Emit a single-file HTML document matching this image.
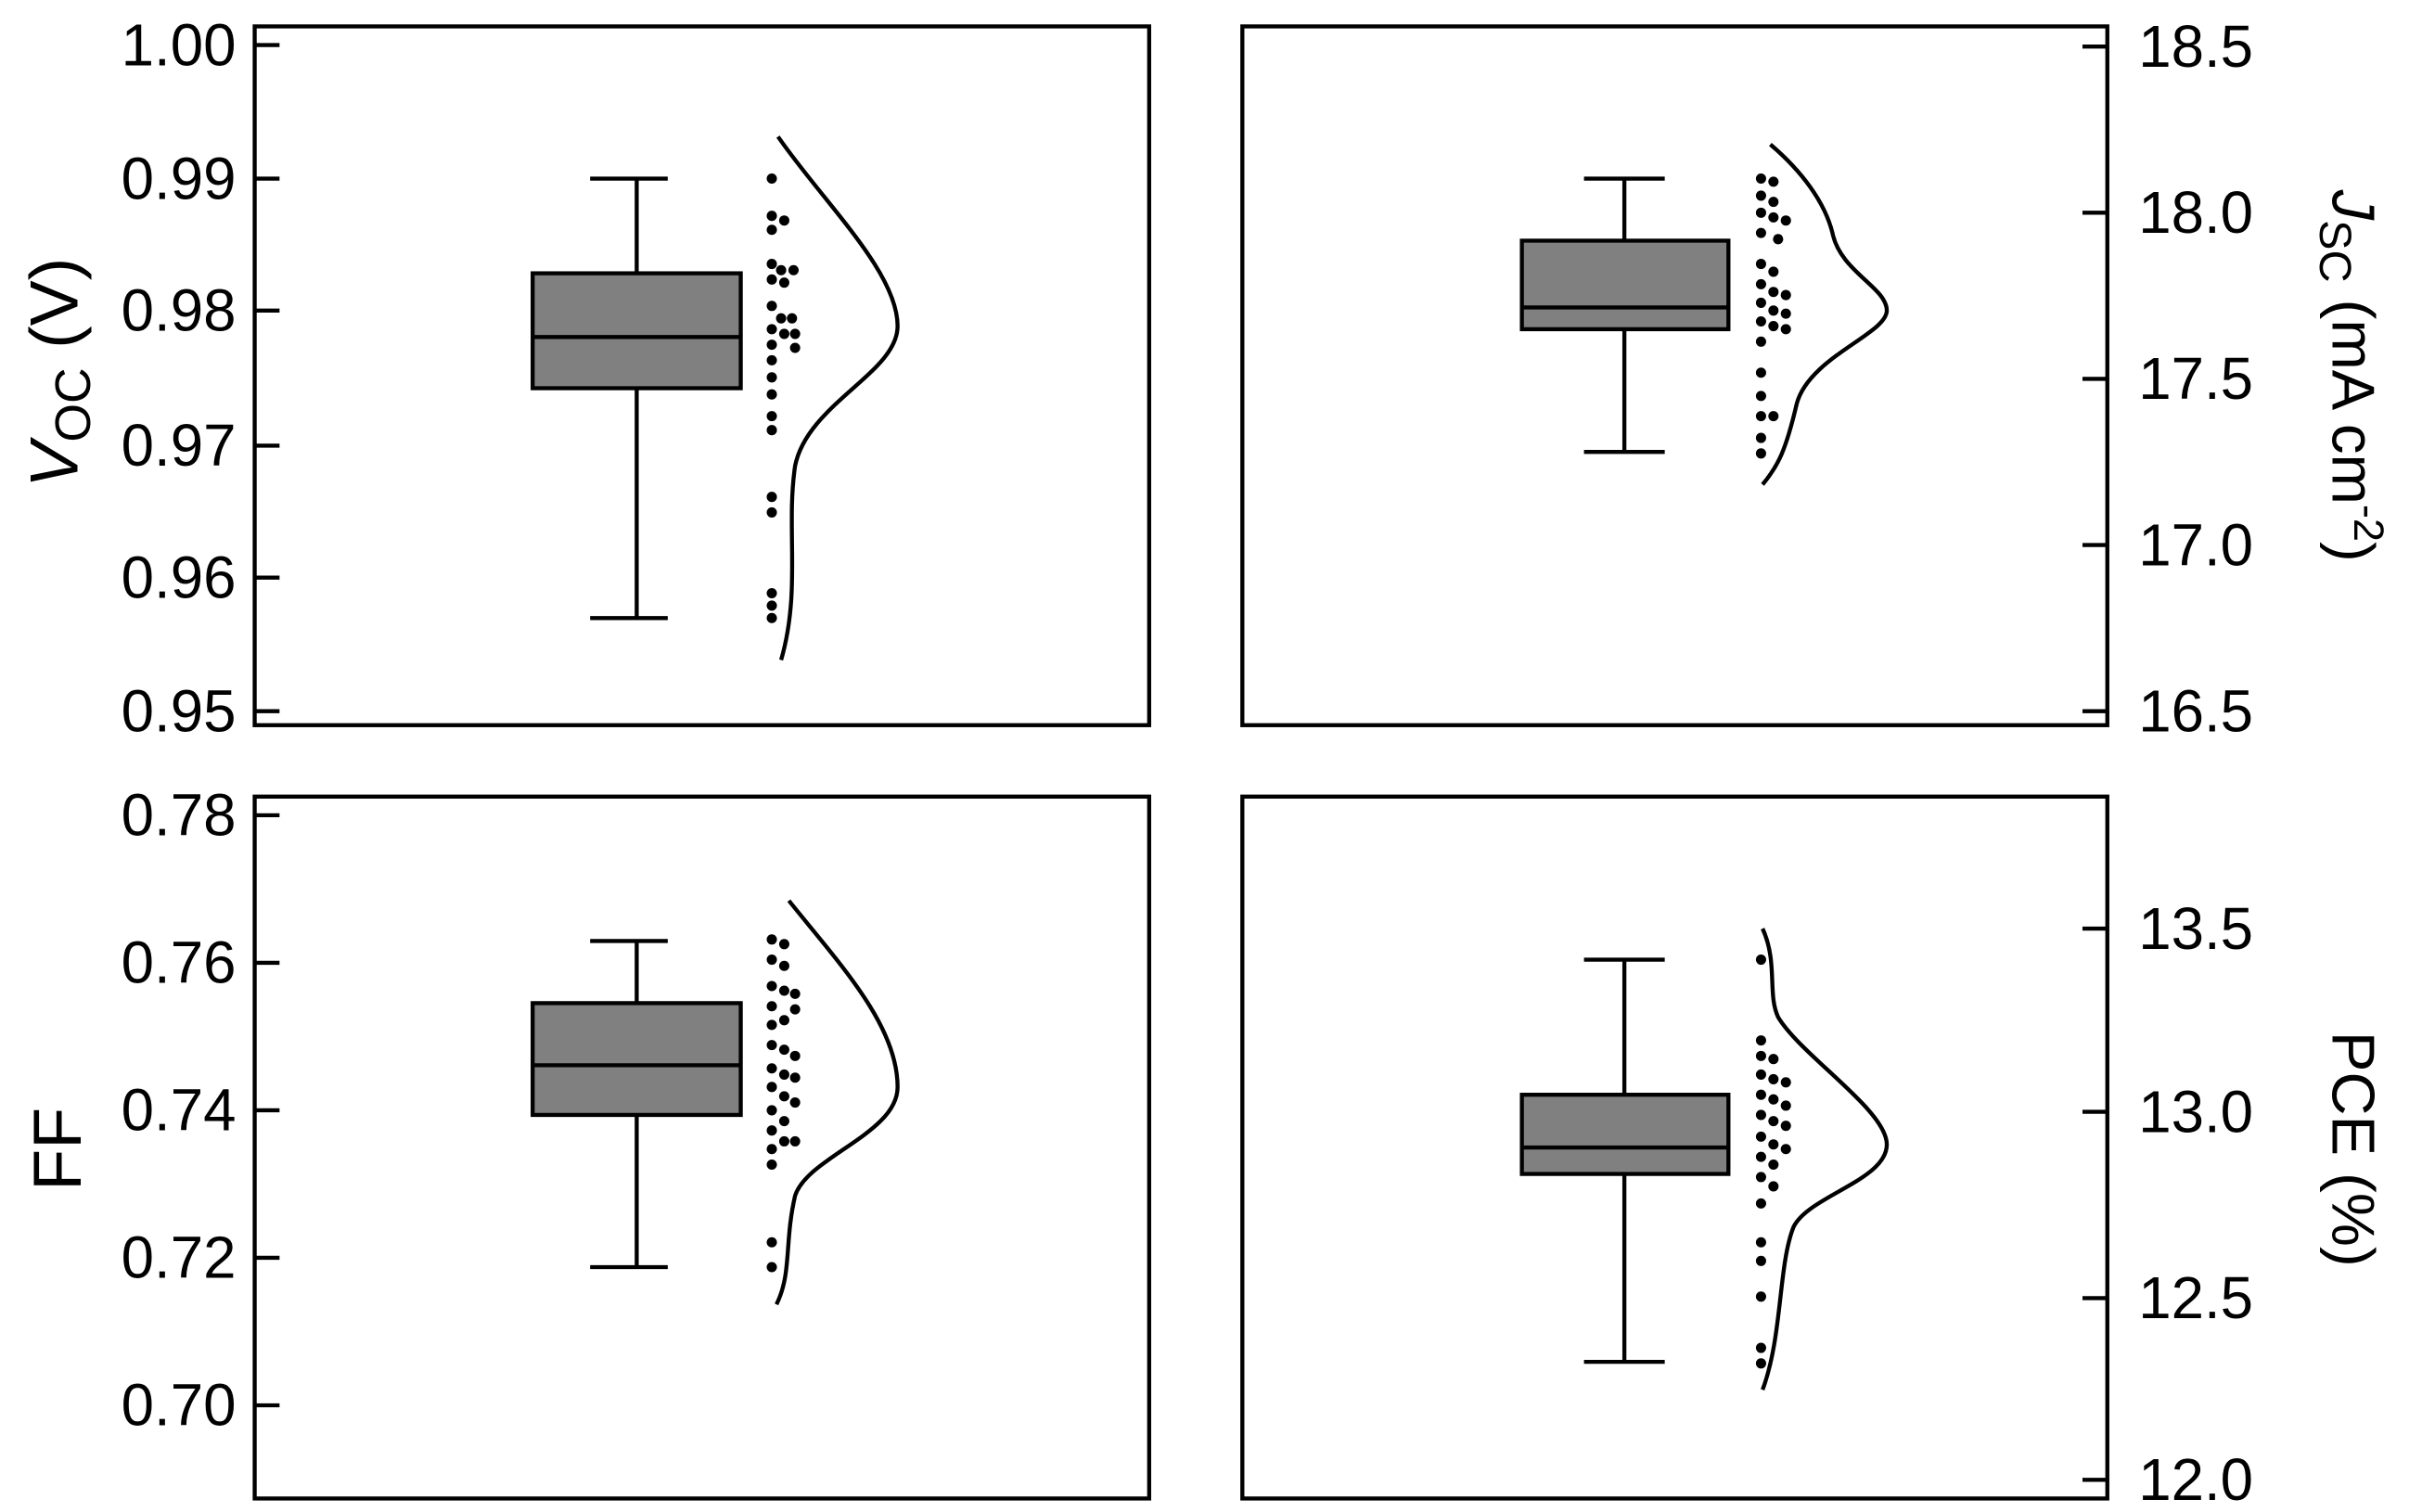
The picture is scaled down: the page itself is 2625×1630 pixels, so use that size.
<!DOCTYPE html>
<html><head><meta charset="utf-8"><style>html,body{margin:0;padding:0;background:#fff;}svg{display:block}</style></head>
<body>
<svg width="2625" height="1630" viewBox="0 0 1568 973.7" preserveAspectRatio="none" xmlns="http://www.w3.org/2000/svg" font-family="Liberation Sans, Arial, sans-serif">
<g fill="none" stroke="#000" stroke-width="2.6">
<rect x="164" y="17" width="576" height="450"/>
<rect x="800" y="17" width="557" height="450"/>
<rect x="164" y="513" width="576" height="452"/>
<rect x="800" y="513" width="557" height="452"/>
<path d="M164 29h16M164 115h16M164 200h16M164 287h16M164 372h16M164 458h16"/>
<path d="M1357 30h-16M1357 137h-16M1357 244h-16M1357 351h-16M1357 458h-16"/>
<path d="M164 525h16M164 620h16M164 715h16M164 810h16M164 905h16"/>
<path d="M1357 598h-16M1357 716h-16M1357 836h-16M1357 953h-16"/>
<path d="M410 115V176M380 115h50M410 250V398M380 398h50"/>
<path d="M1046 115V155M1020 115h52M1046 212V291M1020 291h52"/>
<path d="M410 606V646M380 606h50M410 718V816M380 816h50"/>
<path d="M1046 618V705M1020 618h52M1046 756V877M1020 877h52"/>
<path d="M501 88 C530 130,578 175,578 210 C578 240,520 260,512 300 C506 340,516 380,503 425"/>
<path d="M1140 93 C1160 110,1175 130,1180 150 C1185 175,1215 185,1215 200 C1215 215,1165 230,1157 260 C1150 290,1145 300,1135 312"/>
<path d="M508 580 C540 620,578 660,578 700 C578 730,520 745,512 770 C505 800,510 820,500 840"/>
<path d="M1135 598 C1145 620,1138 640,1145 655 C1160 680,1215 715,1215 737 C1215 760,1165 770,1155 790 C1145 815,1148 860,1135 895"/>
</g>
<g fill="#808080" stroke="#000" stroke-width="2.6">
<rect x="343" y="176" width="134" height="74"/>
<rect x="980" y="155" width="133" height="57"/>
<rect x="343" y="646" width="134" height="72"/>
<rect x="980" y="705" width="133" height="51"/>
</g>
<path d="M343 217h134M980 198h133M343 686h134M980 739h133" stroke="#000" stroke-width="2.6"/>
<g fill="#000">
<circle cx="497" cy="115" r="3.3"/><circle cx="497" cy="139" r="3.3"/><circle cx="505" cy="142" r="3.3"/><circle cx="497" cy="148" r="3.3"/>
<circle cx="497" cy="170" r="3.3"/><circle cx="503" cy="174" r="3.3"/><circle cx="511" cy="174" r="3.3"/><circle cx="497" cy="180" r="3.3"/><circle cx="505" cy="182" r="3.3"/>
<circle cx="497" cy="197" r="3.3"/><circle cx="503" cy="205" r="3.3"/><circle cx="510" cy="205" r="3.3"/><circle cx="497" cy="212" r="3.3"/><circle cx="505" cy="215" r="3.3"/><circle cx="512" cy="215" r="3.3"/><circle cx="497" cy="222" r="3.3"/><circle cx="512" cy="224" r="3.3"/><circle cx="497" cy="232" r="3.3"/><circle cx="497" cy="243" r="3.3"/><circle cx="497" cy="254" r="3.3"/>
<circle cx="497" cy="268" r="3.3"/><circle cx="497" cy="277" r="3.3"/><circle cx="497" cy="320" r="3.3"/><circle cx="497" cy="330" r="3.3"/><circle cx="497" cy="382" r="3.3"/><circle cx="497" cy="390" r="3.3"/><circle cx="497" cy="398" r="3.3"/>
<circle cx="1134" cy="115" r="3.3"/><circle cx="1142" cy="117" r="3.3"/><circle cx="1134" cy="126" r="3.3"/><circle cx="1142" cy="130" r="3.3"/><circle cx="1134" cy="137" r="3.3"/><circle cx="1142" cy="140" r="3.3"/><circle cx="1150" cy="142" r="3.3"/><circle cx="1134" cy="150" r="3.3"/><circle cx="1145" cy="154" r="3.3"/>
<circle cx="1134" cy="170" r="3.3"/><circle cx="1142" cy="175" r="3.3"/><circle cx="1134" cy="183" r="3.3"/><circle cx="1142" cy="188" r="3.3"/><circle cx="1150" cy="190" r="3.3"/><circle cx="1134" cy="195" r="3.3"/><circle cx="1142" cy="200" r="3.3"/><circle cx="1150" cy="202" r="3.3"/><circle cx="1134" cy="207" r="3.3"/><circle cx="1142" cy="210" r="3.3"/><circle cx="1150" cy="212" r="3.3"/><circle cx="1134" cy="220" r="3.3"/>
<circle cx="1134" cy="240" r="3.3"/><circle cx="1134" cy="255" r="3.3"/><circle cx="1134" cy="268" r="3.3"/><circle cx="1142" cy="268" r="3.3"/><circle cx="1134" cy="282" r="3.3"/><circle cx="1134" cy="292" r="3.3"/>
<circle cx="497" cy="605" r="3.3"/><circle cx="505" cy="608" r="3.3"/><circle cx="497" cy="618" r="3.3"/><circle cx="505" cy="622" r="3.3"/><circle cx="497" cy="635" r="3.3"/><circle cx="505" cy="638" r="3.3"/><circle cx="512" cy="640" r="3.3"/><circle cx="497" cy="648" r="3.3"/><circle cx="512" cy="650" r="3.3"/><circle cx="505" cy="657" r="3.3"/><circle cx="497" cy="660" r="3.3"/>
<circle cx="497" cy="673" r="3.3"/><circle cx="505" cy="676" r="3.3"/><circle cx="512" cy="680" r="3.3"/><circle cx="497" cy="688" r="3.3"/><circle cx="505" cy="692" r="3.3"/><circle cx="512" cy="694" r="3.3"/><circle cx="497" cy="700" r="3.3"/><circle cx="505" cy="706" r="3.3"/><circle cx="512" cy="710" r="3.3"/><circle cx="497" cy="715" r="3.3"/><circle cx="505" cy="722" r="3.3"/><circle cx="497" cy="728" r="3.3"/><circle cx="505" cy="735" r="3.3"/><circle cx="512" cy="735" r="3.3"/><circle cx="497" cy="740" r="3.3"/><circle cx="497" cy="750" r="3.3"/>
<circle cx="497" cy="800" r="3.3"/><circle cx="497" cy="816" r="3.3"/>
<circle cx="1134" cy="618" r="3.3"/><circle cx="1134" cy="670" r="3.3"/><circle cx="1134" cy="680" r="3.3"/><circle cx="1142" cy="682" r="3.3"/><circle cx="1134" cy="692" r="3.3"/><circle cx="1142" cy="695" r="3.3"/><circle cx="1150" cy="697" r="3.3"/><circle cx="1134" cy="705" r="3.3"/><circle cx="1142" cy="708" r="3.3"/><circle cx="1150" cy="712" r="3.3"/><circle cx="1134" cy="718" r="3.3"/><circle cx="1142" cy="722" r="3.3"/><circle cx="1150" cy="725" r="3.3"/><circle cx="1134" cy="732" r="3.3"/><circle cx="1142" cy="737" r="3.3"/><circle cx="1150" cy="740" r="3.3"/><circle cx="1134" cy="745" r="3.3"/><circle cx="1142" cy="750" r="3.3"/><circle cx="1134" cy="758" r="3.3"/><circle cx="1142" cy="764" r="3.3"/><circle cx="1134" cy="775" r="3.3"/>
<circle cx="1134" cy="800" r="3.3"/><circle cx="1134" cy="812" r="3.3"/><circle cx="1134" cy="835" r="3.3"/><circle cx="1134" cy="868" r="3.3"/><circle cx="1134" cy="878" r="3.3"/>
</g>
<g font-size="38" fill="#000">
<g text-anchor="end">
<text x="152" y="42">1.00</text><text x="152" y="128">0.99</text><text x="152" y="213">0.98</text><text x="152" y="300">0.97</text><text x="152" y="385">0.96</text><text x="152" y="471">0.95</text>
<text x="152" y="538">0.78</text><text x="152" y="633">0.76</text><text x="152" y="728">0.74</text><text x="152" y="823">0.72</text><text x="152" y="918">0.70</text>
</g>
<text x="1377" y="43">18.5</text><text x="1377" y="150">18.0</text><text x="1377" y="257">17.5</text><text x="1377" y="364">17.0</text><text x="1377" y="471">16.5</text>
<text x="1377" y="611">13.5</text><text x="1377" y="729">13.0</text><text x="1377" y="849">12.5</text><text x="1377" y="966">12.0</text>
<text transform="translate(50,240) rotate(-90)" text-anchor="middle" font-size="44"><tspan font-style="italic">V</tspan><tspan font-size="32" dy="8">OC</tspan><tspan dy="-8"> (V)</tspan></text>
<text transform="translate(52,740) rotate(-90)" text-anchor="middle" font-size="44">FF</text>
<text transform="translate(1502,242) rotate(90)" text-anchor="middle" font-size="39"><tspan font-style="italic">J</tspan><tspan font-size="29" dy="8">SC</tspan><tspan dy="-8"> (mA cm</tspan><tspan font-size="27" dy="-14">-2</tspan><tspan dy="14">)</tspan></text>
<text transform="translate(1502,740) rotate(90)" text-anchor="middle" font-size="39">PCE (%)</text>
</g>
</svg>
</body></html>
